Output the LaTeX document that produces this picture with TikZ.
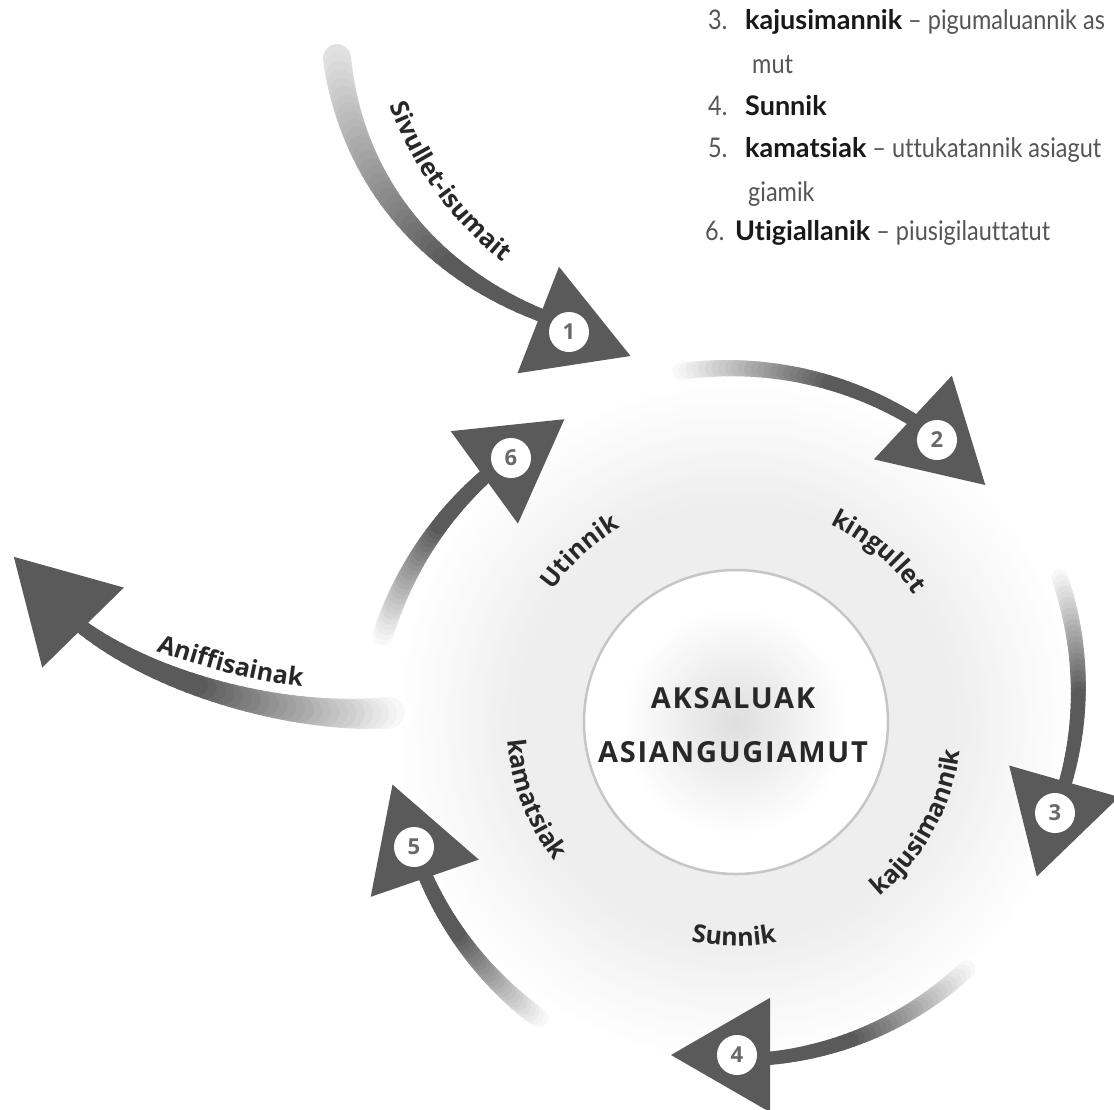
\documentclass[tikz,border=0pt]{standalone}
\usepackage{fontspec}
\usetikzlibrary{decorations.text}
\newfontfamily\labfont{Open Sans}
\newfontfamily\titlefont[LetterSpace=6]{Open Sans}
\newfontfamily\listfont[Ligatures=NoCommon]{Lato}
\newfontfamily\listlight[FakeStretch=0.87,Ligatures=NoCommon]{Lato}
\definecolor{arrowgray}{RGB}{90,90,90}
\definecolor{labelc}{RGB}{40,40,40}
\definecolor{listc}{RGB}{85,85,85}
\definecolor{listb}{RGB}{25,25,25}
\definecolor{numc}{RGB}{105,105,105}
% points along a Bezier curve
\newcommand\bandbez[5]{\foreach \k in {0,...,40}{\pgfmathsetmacro\btt{\k/40}\path (#1) .. controls (#2) and (#3) .. (#4) coordinate[pos=\btt] (#5\k);}}
% points along an arc around C
\newcommand\bandarc[5]{\foreach \k in {0,...,40}{\pgfmathsetmacro\bang{#1+(#2-#1)*\k/40}\pgfmathsetmacro\brad{#3+(#4-#3)*\k/40}\coordinate (#5\k) at ([shift={(\bang:\brad pt)}]C);}}
% paint a tapering, fading band through the points
\newcommand\bandpaint[5]{\foreach \k in {0,...,39}{\pgfmathtruncatemacro\kn{\k+1}\pgfmathsetmacro\bw{#2+(#3-#2)*\k/39}\pgfmathtruncatemacro\bpc{min(100,#4+(100-#4)*\k/#5)}\draw[line width=\bw pt,draw=arrowgray!\bpc!white,line cap=round] (#1\k)--(#1\kn);}}
% triangular head with numbered disc
\newcommand\headtri[4]{\coordinate (#1) at (#2);
\fill[arrowgray] ([shift={(#3:66pt)}]#1) -- ([shift={(#3+120:66pt)}]#1) -- ([shift={(#3-120:66pt)}]#1) -- cycle;
\node[numcirc] (#1n) at (#1) {#4};}
\tikzset{
 numcirc/.style={circle,fill=white,minimum size=40pt,inner sep=0pt,text=numc,font=\labfont\bfseries\fontsize{22}{22}\selectfont},
 ringtext/.style={decorate,decoration={text along path,text align=center,text color=labelc,text={|\labfont\bfseries\fontsize{25}{30}\selectfont|#1}}},
 listtext/.style={anchor=base west,inner sep=0pt,text=listc,font=\listlight\fontsize{27}{30}\selectfont}
}
\newcommand\lb[1]{\textcolor{listb}{\listfont\bfseries #1}}
\begin{document}
\begin{tikzpicture}[x=1pt,y=1pt]
\useasboundingbox (0,0) rectangle (1114,-1109);
\fill[white] (0,0) rectangle (1114,-1109);
\coordinate (C) at (736,-722);
% outer ring disc
\foreach \i in {0,...,36}{\pgfmathsetmacro\rr{342-\i*5.1}\pgfmathsetmacro\gk{min(13,\i*20/36)}\fill[gray!\gk!white] (C) circle[radius=\rr pt];}
% inner disc
\foreach \i in {0,...,30}{\pgfmathsetmacro\rr{152-\i*4.9}\pgfmathsetmacro\gk{max(0,26*(1-\rr/115))}\fill[gray!\gk!white] (C) circle[radius=\rr pt];}
\draw[gray!45,line width=2.5pt] (C) circle[radius=152pt];
% ring labels
\path[ringtext=Utinnik] ([shift={(160:226pt)}]C) arc[start angle=160,end angle=105,radius=226pt];
\path[ringtext=kingullet] ([shift={(80:219pt)}]C) arc[start angle=80,end angle=20,radius=219pt];
\path[ringtext=kajusimannik] ([shift={(-70:226pt)}]C) arc[start angle=-70,end angle=12,radius=226pt];
\path[ringtext=Sunnik] ([shift={(-130:224pt)}]C) arc[start angle=-130,end angle=-51,radius=224pt];
\path[ringtext=kamatsiak] ([shift={(158:229pt)}]C) arc[start angle=158,end angle=244,radius=229pt];
% centre title
\node[align=center,text=labelc,font=\titlefont\bfseries\fontsize{29}{54}\selectfont] (title) at (733,-725) {AKSALUAK\\ASIANGUGIAMUT};
% tails
\bandbez{337,-58}{350,-170}{420,-270}{548,-318}{ta}
\bandpaint{ta}{28}{13}{18}{28}
\bandarc{100}{58}{355}{350}{tb}
\bandpaint{tb}{17}{13}{0}{24}
\bandarc{25}{-12}{355}{334}{tc}
\bandpaint{tc}{17}{13}{0}{22}
\bandarc{-46}{-86}{338}{338}{td}
\bandpaint{td}{18}{13}{0}{24}
\bandarc{-123}{-156}{356}{346}{te}
\bandpaint{te}{20}{14}{0}{24}
\bandarc{167}{133}{364}{350}{tf}
\bandpaint{tf}{21}{14}{0}{24}
\bandbez{396,-712}{300,-722}{160,-688}{78,-624}{tg}
\bandpaint{tg}{32}{14}{0}{24}
% heads
\headtri{h1}{569,-332}{-21.3}{1}
\headtri{h2}{937,-440}{-43}{2}
\headtri{h3}{1055,-813}{-106}{3}
\headtri{h4}{737,-1055}{180}{4}
\headtri{h5}{414,-847}{109}{5}
\headtri{h6}{511,-458}{36}{6}
\coordinate (hA) at (60,-604);
\fill[arrowgray] ([shift={(134.4:66pt)}]hA) -- ([shift={(254.4:66pt)}]hA) -- ([shift={(14.4:66pt)}]hA) -- cycle;
% outer labels
\path[ringtext=Sivullet-isumait] (370,-40) .. controls (395,-150) and (450,-240) .. (560,-300);
\path[ringtext=Aniffisainak] (125,-640) .. controls (210,-672) and (270,-685) .. (335,-690);
% list
\node[listtext] (n3) at (708,-29) {3.};
\node[listtext] (l3) at (745,-29) {\lb{kajusimannik} – pigumaluannik as};
\node[listtext] (l3b) at (752,-73) {mut};
\node[listtext] (n4) at (708,-115) {4.};
\node[listtext] (l4) at (745,-115) {\lb{Sunnik}};
\node[listtext] (n5) at (708,-157) {5.};
\node[listtext] (l5) at (745,-157) {\lb{kamatsiak} – uttukatannik asiagut};
\node[listtext] (l5b) at (748,-201) {giamik};
\node[listtext] (n6) at (705,-240) {6.};
\node[listtext] (l6) at (735,-240) {\lb{Utigiallanik} – piusigilauttatut};
\end{tikzpicture}
\end{document}
